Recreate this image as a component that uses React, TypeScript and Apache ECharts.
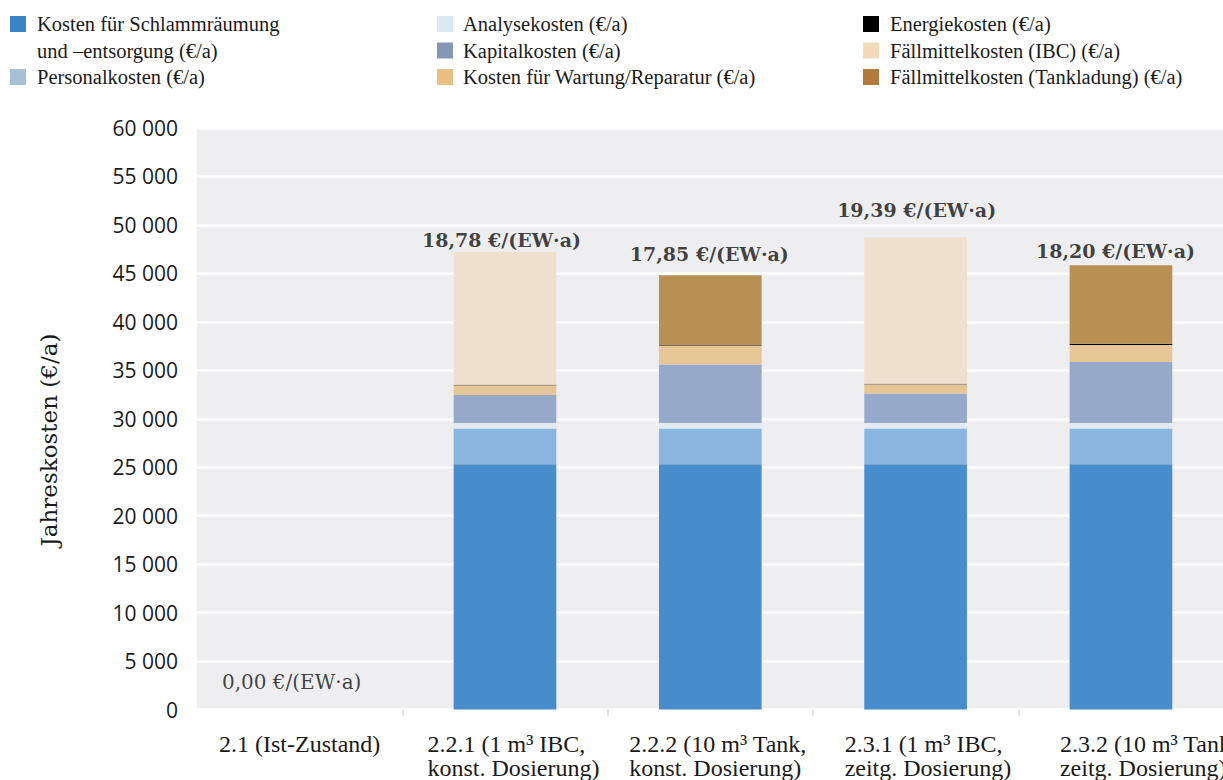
import React, { useEffect, useRef } from 'react';
import * as echarts from 'echarts';

// ---------- data ----------
const categories = [
  '2.1 (Ist-Zustand)',
  '2.2.1 (1 m³ IBC,\nkonst. Dosierung)',
  '2.2.2 (10 m³ Tank,\nkonst. Dosierung)',
  '2.3.1 (1 m³ IBC,\nzeitg. Dosierung)',
  '2.3.2 (10 m³ Tank,\nzeitg. Dosierung)',
];

const schlammkosten = [0, 25300, 25300, 25300, 25300];
const personalkosten = [0, 3700, 3700, 3700, 3700];
const analysekosten = [0, 550, 550, 550, 550];
const kapitalkosten = [0, 2900, 6050, 3050, 6300];
const wartungskosten = [0, 1000, 1950, 950, 1750];
const energiekosten = [0, 50, 50, 50, 150];
const faellmittelIBC = [0, 13700, 0, 15100, 0];
const faellmittelTank = [0, 0, 7200, 0, 8100];

const specificCosts = [
  '0,00 €/(EW·a)',
  '18,78 €/(EW·a)',
  '17,85 €/(EW·a)',
  '19,39 €/(EW·a)',
  '18,20 €/(EW·a)',
];

const yMin = 0;
const yMax = 60000;
const yStep = 5000;

// ---------- names & styles ----------
const N_SCHLAMM = 'Kosten für Schlammräumung\nund –entsorgung (€/a)';
const N_PERSONAL = 'Personalkosten (€/a)';
const N_ANALYSE = 'Analysekosten (€/a)';
const N_KAPITAL = 'Kapitalkosten (€/a)';
const N_WARTUNG = 'Kosten für Wartung/Reparatur (€/a)';
const N_ENERGIE = 'Energiekosten (€/a)';
const N_IBC = 'Fällmittelkosten (IBC) (€/a)';
const N_TANK = 'Fällmittelkosten (Tankladung) (€/a)';

const seriesDefs = [
  { name: N_SCHLAMM, data: schlammkosten, color: '#488dcb', legendColor: '#3a84c5' },
  { name: N_PERSONAL, data: personalkosten, color: '#89b5df', legendColor: '#a8bfd8' },
  { name: N_ANALYSE, data: analysekosten, color: '#e2eaf4', legendColor: '#dde8f5' },
  { name: N_KAPITAL, data: kapitalkosten, color: '#97a9ca', legendColor: '#8896b6' },
  { name: N_WARTUNG, data: wartungskosten, color: '#e6c696', legendColor: '#e9c084' },
  { name: N_ENERGIE, data: energiekosten, color: '#000000', legendColor: '#000000' },
  { name: N_IBC, data: faellmittelIBC, color: '#efe0cd', legendColor: '#f2d9bb' },
  { name: N_TANK, data: faellmittelTank, color: '#b98f53', legendColor: '#b07c3e' },
];

const labelOffsets = [
  [-8, -11.5],
  [-3.5, 4],
  [-1, -5],
  [1, -11.5],
  [-5.5, 2],
];

const catLabelWidths = [0, 155, 162, 142, 122];

const TEXT = '#1a1a1a';
const SERIF = 'Liberation Serif';

function fmtThousands(v: number): string {
  return String(v).replace(/\B(?=(\d{3})+(?!\d))/g, ' ');
}

export default function App() {
  const ref = useRef<HTMLDivElement>(null);

  useEffect(() => {
    if (!ref.current) return;
    const chart = echarts.init(ref.current, undefined, { renderer: 'svg' });

    const totals = categories.map((_, i) =>
      seriesDefs.reduce((s, d) => s + d.data[i], 0)
    );

    const legendText = {
      fontFamily: SERIF,
      fontSize: 20.5,
      lineHeight: 26.5,
      color: TEXT,
    };
    const legItem = (name: string, padLeft: number) => {
      const def = seriesDefs.find((d) => d.name === name)!;
      return {
        name,
        itemStyle: { color: def.legendColor },
        textStyle: { padding: [0, 0, 0, padLeft] },
      };
    };
    const legendBase = {
      orient: 'vertical',
      itemGap: 0,
      itemWidth: 16,
      itemHeight: 16,
      padding: 0,
      icon: 'rect',
      selectedMode: false,
      textStyle: legendText,
      formatter: (name: string) => name.split('\n')[0],
    };

    const rich: Record<string, any> = {};
    catLabelWidths.forEach((w, i) => {
      rich['c' + i] = {
        fontFamily: SERIF,
        fontSize: 24,
        lineHeight: 24,
        color: TEXT,
        ...(w > 0 ? { width: w, align: 'left' } : {}),
      };
    });

    const option: any = {
      animation: false,
      backgroundColor: '#ffffff',
      legend: [
        {
          ...legendBase,
          left: 10,
          top: 10.75,
          itemGap: 26.5,
          data: [legItem(N_SCHLAMM, 6), legItem(N_PERSONAL, 6)],
        },
        {
          ...legendBase,
          left: 437,
          top: 10.75,
          data: [legItem(N_ANALYSE, 5), legItem(N_KAPITAL, 5), legItem(N_WARTUNG, 5)],
        },
        {
          ...legendBase,
          left: 863,
          top: 10.75,
          data: [legItem(N_ENERGIE, 6), legItem(N_IBC, 6), legItem(N_TANK, 6)],
        },
      ],
      grid: {
        left: 197,
        top: 128,
        width: 1031,
        height: 582.5,
        show: true,
        backgroundColor: '#eeeef0',
        borderWidth: 0,
        containLabel: false,
      },
      xAxis: {
        type: 'category',
        data: categories,
        axisLine: { show: false },
        axisTick: {
          show: true,
          length: 7,
          interval: (i: number) => i > 0,
          lineStyle: { color: '#d9d9d9', width: 1.5 },
        },
        axisLabel: {
          interval: 0,
          margin: 22.5,
          color: TEXT,
          fontFamily: SERIF,
          fontSize: 24,
          lineHeight: 24,
          formatter: (v: string, i: number) =>
            v
              .split('\n')
              .map((l) => `{c${i}|${l}}`)
              .join('\n'),
          rich,
        },
        splitLine: { show: false },
      },
      yAxis: {
        type: 'value',
        min: yMin,
        max: yMax,
        interval: yStep,
        axisLine: { show: false },
        axisTick: { show: false },
        axisLabel: {
          margin: 19,
          color: TEXT,
          fontFamily: 'Open Sans',
          fontSize: 21,
          formatter: (v: number) => fmtThousands(v),
        },
        splitLine: { show: true, lineStyle: { color: '#ffffff', width: 2.5 } },
      },
      graphic: [
        {
          type: 'text',
          x: 49,
          y: 440,
          rotation: Math.PI / 2,
          style: {
            text: 'Jahreskosten (€/a)',
            fontFamily: 'DejaVu Serif',
            fontSize: 23,
            fill: TEXT,
            align: 'center',
            verticalAlign: 'middle',
          },
        },
        {
          type: 'text',
          x: 37,
          y: 50.5,
          style: {
            text: N_SCHLAMM.split('\n')[1],
            fontFamily: SERIF,
            fontSize: 20.5,
            fill: TEXT,
            align: 'left',
            verticalAlign: 'middle',
          },
        },
      ],
      series: [
        ...seriesDefs.map((d) => ({
          type: 'bar',
          name: d.name,
          stack: 'kosten',
          barWidth: '50%',
          data: d.data,
          itemStyle: { color: d.color },
          emphasis: { disabled: true },
        })),
        {
          type: 'scatter',
          name: 'Spezifische Kosten',
          symbolSize: 1,
          silent: true,
          z: 10,
          itemStyle: { color: 'rgba(0,0,0,0)' },
          label: {
            show: true,
            position: 'top',
            distance: 5,
            fontFamily: 'DejaVu Serif',
            fontSize: 19,
            fontWeight: 'bold',
            lineHeight: 22,
            color: '#111111',
            formatter: (p: any) => specificCosts[p.dataIndex],
          },
          data: totals.map((v, i) => ({
            value: v,
            label: {
              offset: labelOffsets[i],
              ...(i === 0 ? { fontWeight: 'normal', fontSize: 20 } : {}),
            },
          })),
        },
      ],
    };

    chart.setOption(option);
    return () => chart.dispose();
  }, []);

  return (
    <div
      style={{
        position: 'absolute',
        left: 0,
        top: 0,
        width: 1223,
        height: 780,
        overflow: 'hidden',
      }}
    >
      <div ref={ref} style={{ width: 1240, height: 780 }} />
    </div>
  );
}
